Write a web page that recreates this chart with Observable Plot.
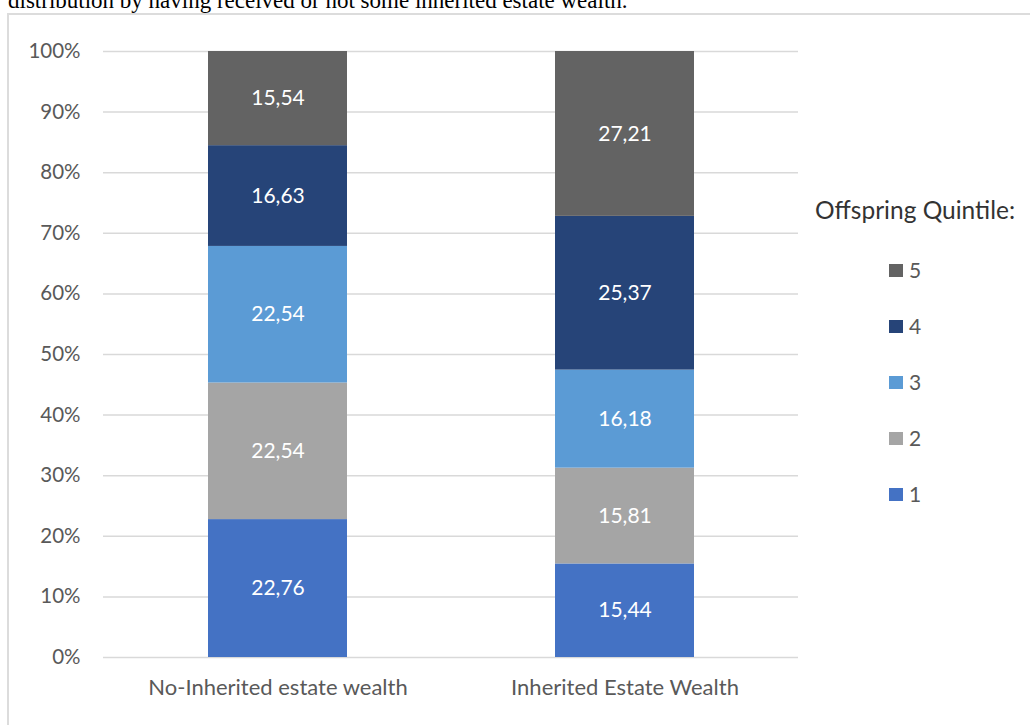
<!DOCTYPE html>
<html><head><meta charset="utf-8">
<script src="https://cdn.jsdelivr.net/npm/d3@7"></script>
<script src="https://cdn.jsdelivr.net/npm/@observablehq/plot@0.6"></script>
<style>
body{margin:0;background:#fff;}
#wrap{position:relative;width:1030px;height:725px;overflow:hidden;background:#fff;}
#caption{position:absolute;left:8px;top:-11.5px;font-family:"Liberation Serif","Times New Roman",serif;font-size:23px;line-height:23px;color:#000;white-space:nowrap;}
#frame{position:absolute;left:7px;top:13px;width:1100px;height:900px;border:2px solid #dcdcdc;pointer-events:none;}
#chart{position:absolute;left:0;top:0;}
#legend-title{position:absolute;left:815px;top:198px;font-family:Lato,"Noto Sans",sans-serif;font-size:24.5px;line-height:24px;color:#333;white-space:nowrap;}
.lg{position:absolute;left:889px;height:20px;display:flex;align-items:center;font-family:Lato,"Noto Sans",sans-serif;font-size:21px;line-height:20px;color:#595959;}
.lg .sw{width:14px;height:13px;margin-right:6px;}
</style></head><body>
<div id="wrap">
  <div id="chart"></div>
  <div id="caption">distribution by having received or not some inherited estate wealth.</div>
  <div id="frame"></div>
  <div id="legend-title">Offspring Quintile:</div>
</div>
<script>
const categories = ["No-Inherited estate wealth", "Inherited Estate Wealth"];
const quintiles = ["1", "2", "3", "4", "5"];
const noInheritedValues = [22.76, 22.54, 22.54, 16.63, 15.54];
const inheritedValues = [15.44, 15.81, 16.18, 25.37, 27.21];
const quintileColors = ["#4472C4", "#A5A5A5", "#5B9BD5", "#264478", "#636363"];
const yTicks = [0, 0.1, 0.2, 0.3, 0.4, 0.5, 0.6, 0.7, 0.8, 0.9, 1];
const yTickLabels = ["0%", "10%", "20%", "30%", "40%", "50%", "60%", "70%", "80%", "90%", "100%"];

const seriesByCategory = [noInheritedValues, inheritedValues];
const rows = [];
categories.forEach((cat, ci) => {
  quintiles.forEach((q, qi) => {
    rows.push({cat, quintile: q, value: seriesByCategory[ci][qi]});
  });
});
const fmt = v => v.toFixed(2).replace(".", ",");

const chart = Plot.plot({
  width: 1030,
  height: 725,
  marginTop: 51,
  marginBottom: 68,
  marginLeft: 103,
  marginRight: 232,
  style: {fontFamily: "Lato, 'Noto Sans', sans-serif", fontSize: "20px", color: "#595959", background: "transparent"},
  x: {domain: categories, paddingInner: 0.6, paddingOuter: 0.3, label: null},
  y: {domain: [0, 1], label: null},
  color: {domain: quintiles, range: quintileColors},
  marks: [
    Plot.gridY(yTicks, {stroke: "#d9d9d9", strokeOpacity: 1, strokeWidth: 1.5}),
    Plot.barY(rows, Plot.stackY({x: "cat", y: "value", fill: "quintile", offset: "normalize"})),
    Plot.text(rows, Plot.stackY({x: "cat", y: "value", offset: "normalize", text: d => fmt(d.value), fill: "white", fontSize: 21})),
    Plot.axisY({ticks: yTicks, tickFormat: (d) => yTickLabels[yTicks.indexOf(d)], tickSize: 0, tickPadding: 23, fontSize: 20.5, label: null}),
    Plot.axisX({tickSize: 0, tickPadding: 22, fontSize: 22, label: null})
  ]
});
document.getElementById("chart").appendChild(chart);

// legend (top to bottom: 5 .. 1)
const wrap = document.getElementById("wrap");
quintiles.slice().reverse().forEach((q, i) => {
  const idx = quintiles.indexOf(q);
  const item = document.createElement("div");
  item.className = "lg";
  item.style.top = (260 + i * 56) + "px";
  const sw = document.createElement("span");
  sw.className = "sw";
  sw.style.background = quintileColors[idx];
  const lab = document.createElement("span");
  lab.textContent = q;
  item.appendChild(sw);
  item.appendChild(lab);
  wrap.appendChild(item);
});
</script>
</body></html>
